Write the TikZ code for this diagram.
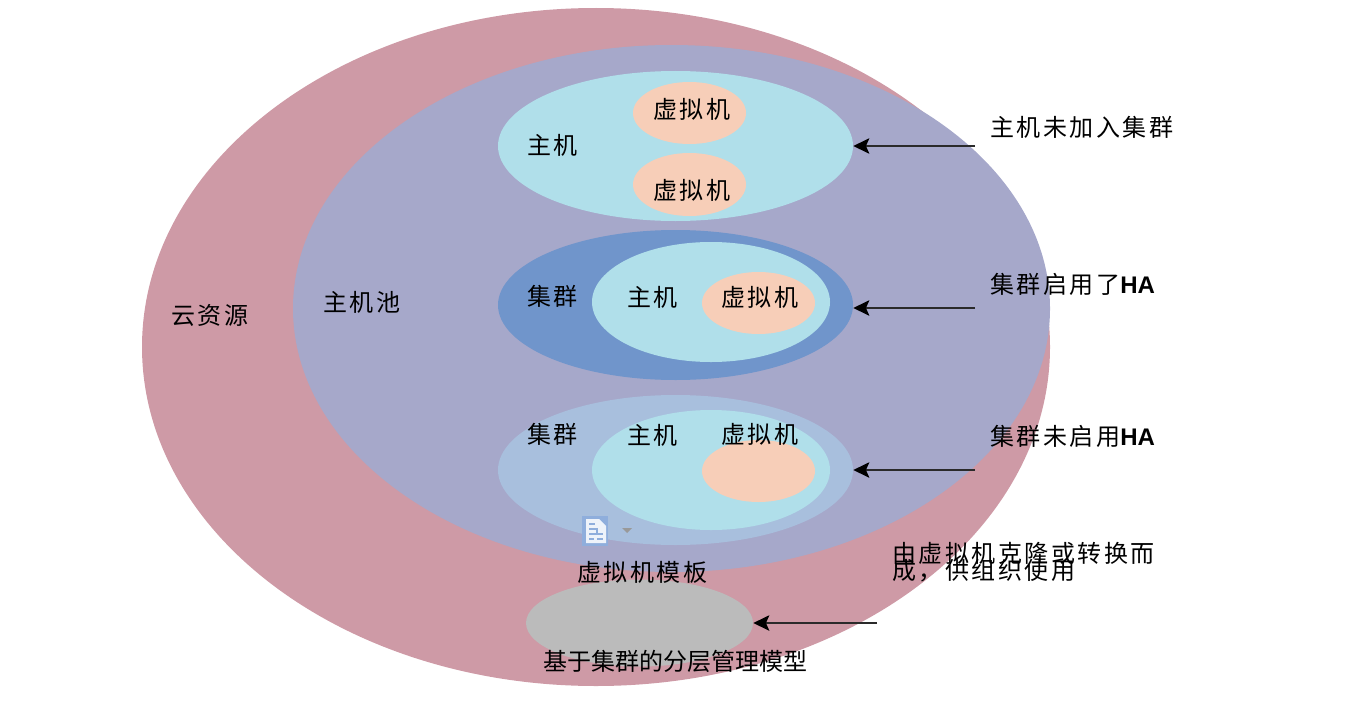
\documentclass[tikz,border=0pt]{standalone}
\usepackage{fontspec}
\usetikzlibrary{shapes.geometric,arrows.meta}
\newfontfamily\cjkwide[LetterSpace=10.5]{Noto Sans CJK SC}
\newfontfamily\cjktight{Noto Sans CJK SC}
\newfontfamily\latinb{Liberation Sans}[BoldFont={Liberation Sans Bold}]
\definecolor{outerc}{HTML}{CE9AA6}
\definecolor{innerc}{HTML}{A6A8CA}
\definecolor{hostc}{HTML}{B0DFEA}
\definecolor{vmc}{HTML}{F7CEB8}
\definecolor{haon}{HTML}{7095CB}
\definecolor{haoff}{HTML}{A8BFDD}
\definecolor{greyc}{HTML}{BBBBBB}
\definecolor{iconc}{HTML}{8FAEDC}
\definecolor{arrowc}{HTML}{2A2A2A}
\newcommand{\HAtext}{{\latinb\bfseries HA}}
\tikzset{
  blob/.style n args={3}{ellipse,draw=none,fill=#1,inner sep=0pt,minimum width=#2*0.75pt,minimum height=#3*0.75pt},
  lab/.style={anchor=west,inner sep=0pt,text=black,font=\fontsize{18}{18}\selectfont\cjkwide},
  labtight/.style={anchor=west,inner sep=0pt,text=black,font=\fontsize{18}{18}\selectfont\cjktight},
  pointer/.style={draw=arrowc,line width=1.6pt,-{Stealth[length=12pt,width=11.5pt,inset=2.5pt,color=black]}},
}
\begin{document}
\begin{tikzpicture}[x=0.75pt,y=-0.75pt]
\useasboundingbox (0,0) rectangle (1358,710);
% ellipses
\node[blob={outerc}{908}{678}] (cloud) at (596,347) {};
\node[blob={innerc}{757}{527}] (pool) at (671.5,308.5) {};
\node[blob={hostc}{355}{150}] (host) at (675.5,146) {};
\node[blob={vmc}{113}{62}] (vmA) at (689.5,113) {};
\node[blob={vmc}{113}{63}] (vmB) at (689.5,184.5) {};
\node[blob={haon}{355}{150}] (clusterOn) at (675.5,305) {};
\node[blob={hostc}{238}{120}] (hostOn) at (711,302) {};
\node[blob={vmc}{113}{62}] (vmOn) at (758.5,303) {};
\node[blob={haoff}{355}{150}] (clusterOff) at (675.5,470) {};
\node[blob={hostc}{238}{120}] (hostOff) at (711,470) {};
\node[blob={vmc}{113}{62}] (vmOff) at (758.5,471) {};
\node[blob={greyc}{227}{87}] (template) at (639.5,623) {};
% icon
\fill[iconc] (582,516) rectangle (608,546);
\fill[white!85!iconc] (586,519) -- (599,519) -- (606,526) -- (606,543) -- (586,543) -- cycle;
\draw[iconc,line width=1.1pt] (589,524) -- (595,524) (589,529) -- (597,529) -- (597,533) (589,534) -- (603,534) (589,539) -- (594,539) (597,539) -- (603,539);
\fill[gray!80] (622,528) -- (632,528) -- (627,533) -- cycle;
% labels
\node[lab] (tCloud) at (171,315) {云资源};
\node[lab] (tPool) at (323,302) {主机池};
\node[lab] (tHost) at (527,145) {主机};
\node[lab] (tVmA) at (653,109) {虚拟机};
\node[lab] (tVmB) at (653,190) {虚拟机};
\node[lab] (tCl1) at (527,296) {集群};
\node[lab] (tHo1) at (627,297) {主机};
\node[lab] (tVm1) at (721,297) {虚拟机};
\node[lab] (tCl2) at (527,434) {集群};
\node[lab] (tHo2) at (627,435) {主机};
\node[lab] (tVm2) at (721,434) {虚拟机};
\node[lab] (tTpl) at (577,572) {虚拟机模板};
\node[labtight] (tCap) at (543,661) {基于集群的分层管理模型};
\node[lab] (n1) at (990,127) {主机未加入集群};
\node[lab] (n2) at (990,284) {集群启用了\HAtext};
\node[lab] (n3) at (990,436) {集群未启用\HAtext};
\node[lab] (n4a) at (892,553) {由虚拟机克隆或转换而};
\node[lab] (n4b) at (892,571) {成，供组织使用};
% connectors
\coordinate (a1) at (975,146);
\coordinate (a2) at (975,308);
\coordinate (a3) at (975,470);
\coordinate (a4) at (877,623);
\draw[pointer] (a1) -- (host.east);
\draw[pointer] (a2) -- (a2 -| clusterOn.east);
\draw[pointer] (a3) -- (clusterOff.east);
\draw[pointer] (a4) -- (template.east);
\end{tikzpicture}
\end{document}
